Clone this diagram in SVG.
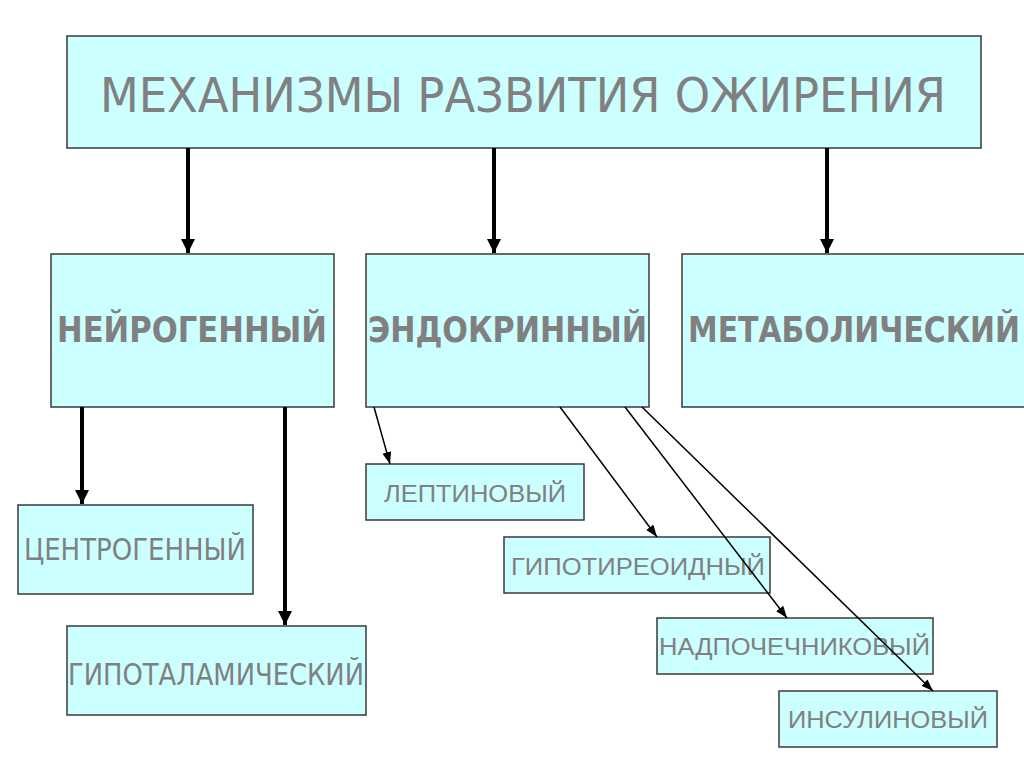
<svg xmlns="http://www.w3.org/2000/svg" width="1024" height="767" viewBox="0 0 1024 767">
<style>
.box{fill:#ccffff;stroke:#3a3a3a;stroke-width:1.5}
.t{fill:#808080;text-anchor:middle;font-family:"DejaVu Sans","Noto Sans",sans-serif}
.b{font-weight:bold}
.l{font-family:"Liberation Sans","Open Sans",sans-serif;font-weight:normal}
.thick{stroke:#000;stroke-width:4;fill:none}
.thin{stroke:#000;stroke-width:1.5;fill:none}
</style>
<defs>
<marker id="ah" markerUnits="userSpaceOnUse" markerWidth="14" markerHeight="16" viewBox="0 0 14 16" refX="14" refY="8" orient="auto"><path d="M0,1 L14,8 L0,15 Z" fill="#000"/></marker>
<marker id="as" markerUnits="userSpaceOnUse" markerWidth="12" markerHeight="10" viewBox="0 0 12 10" refX="12" refY="5" orient="auto"><path d="M0,0.5 L12,5 L0,9.5 Z" fill="#000"/></marker>
</defs>
<rect width="1024" height="767" fill="#fff"/>
<g id="title"><rect class="box" x="67" y="36" width="914" height="112"/><text class="t" x="523" y="112" font-size="48" textLength="846" lengthAdjust="spacingAndGlyphs">МЕХАНИЗМЫ РАЗВИТИЯ ОЖИРЕНИЯ</text></g>
<g id="neuro"><rect class="box" x="51" y="254" width="283" height="153"/><text class="t b" x="192" y="342" font-size="35" textLength="270" lengthAdjust="spacingAndGlyphs">НЕЙРОГЕННЫЙ</text></g>
<g id="endo"><rect class="box" x="366" y="254" width="283" height="153"/><text class="t b" x="507.5" y="342" font-size="35" textLength="279" lengthAdjust="spacingAndGlyphs">ЭНДОКРИННЫЙ</text></g>
<g id="metab"><rect class="box" x="682" y="254" width="345" height="153"/><text class="t b" x="854" y="342" font-size="35" textLength="332" lengthAdjust="spacingAndGlyphs">МЕТАБОЛИЧЕСКИЙ</text></g>
<g id="centro"><rect class="box" x="18" y="505" width="235" height="89"/><text class="t" x="135" y="560" font-size="31" textLength="222" lengthAdjust="spacingAndGlyphs">ЦЕНТРОГЕННЫЙ</text></g>
<g id="hypothal"><rect class="box" x="67" y="626" width="299" height="89"/><text class="t" x="216" y="685" font-size="31" textLength="296" lengthAdjust="spacingAndGlyphs">ГИПОТАЛАМИЧЕСКИЙ</text></g>
<g id="leptin"><rect class="box" x="366" y="464" width="218" height="56"/><text class="t l" x="475" y="502" font-size="24" textLength="182" lengthAdjust="spacingAndGlyphs">ЛЕПТИНОВЫЙ</text></g>
<g id="hypothyr"><rect class="box" x="504" y="537" width="266" height="56"/><text class="t l" x="638" y="575" font-size="24" textLength="254" lengthAdjust="spacingAndGlyphs">ГИПОТИРЕОИДНЫЙ</text></g>
<g id="adrenal"><rect class="box" x="657" y="618" width="276" height="56"/><text class="t l" x="794.5" y="655" font-size="24" textLength="271" lengthAdjust="spacingAndGlyphs">НАДПОЧЕЧНИКОВЫЙ</text></g>
<g id="insulin"><rect class="box" x="779" y="691" width="218" height="56"/><text class="t l" x="888" y="728" font-size="24" textLength="200" lengthAdjust="spacingAndGlyphs">ИНСУЛИНОВЫЙ</text></g>
<g id="connectors">
<line class="thick" x1="188" y1="148" x2="188" y2="253" marker-end="url(#ah)"/>
<line class="thick" x1="494" y1="148" x2="494" y2="253" marker-end="url(#ah)"/>
<line class="thick" x1="827" y1="148" x2="827" y2="253" marker-end="url(#ah)"/>
<line class="thick" x1="82" y1="407" x2="82" y2="504" marker-end="url(#ah)"/>
<line class="thick" x1="285" y1="407" x2="285" y2="625" marker-end="url(#ah)"/>
<line class="thin" x1="374" y1="407" x2="390" y2="464" marker-end="url(#as)"/>
<line class="thin" x1="560" y1="407" x2="657" y2="537" marker-end="url(#as)"/>
<line class="thin" x1="625" y1="407" x2="787" y2="618" marker-end="url(#as)"/>
<line class="thin" x1="642" y1="407" x2="933" y2="691" marker-end="url(#as)"/>
</g>
</svg>
